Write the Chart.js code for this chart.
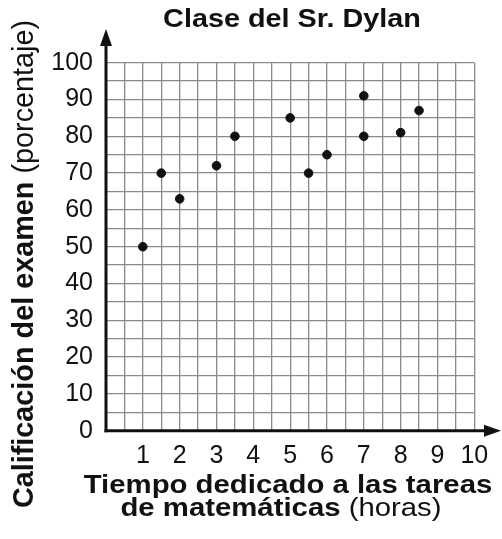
<!DOCTYPE html>
<html>
<head>
<meta charset="utf-8">
<title>Clase del Sr. Dylan</title>
<script src="https://cdn.jsdelivr.net/npm/chart.js@4.4.1/dist/chart.umd.min.js"></script>
<style>
  html, body { margin: 0; padding: 0; background: #fff; }
  #wrap { width: 502px; height: 539px; }
</style>
</head>
<body>
<div id="wrap"><canvas id="grafico" width="502" height="539"></canvas></div>
<script>
// Datos
const horas = [1, 1.5, 2, 3, 3.5, 5, 5.5, 6, 7, 7, 8, 8.5];
const calificaciones = [50, 70, 63, 72, 80, 85, 70, 75, 91, 80, 81, 87];
const etiquetasX = [1, 2, 3, 4, 5, 6, 7, 8, 9, 10];
const etiquetasY = [0, 10, 20, 30, 40, 50, 60, 70, 80, 90, 100];

const titulo = "Clase del Sr. Dylan";
const tituloX1 = [["Tiempo dedicado a las tareas", "bold"]];
const tituloX2 = [["de matemáticas ", "bold"], ["(horas)", "normal"]];
const tituloY = [["Calificación del examen ", "bold"], ["(porcentaje)", "normal"]];

const fuente = '"Liberation Sans", Arial, Helvetica, sans-serif';
const negro = "#111";
const gris = "#8a8a8a";

const puntos = horas.map((h, i) => ({ x: h, y: calificaciones[i] }));

// Escribe texto con partes en negrita y normal, centrado en cx
function textoMixto(ctx, partes, cx, y, tam, escalaX) {
    ctx.save();
    ctx.translate(cx, y);
    ctx.scale(escalaX, 1);
    let total = 0;
    partes.forEach(p => {
        ctx.font = `${p[1]} ${tam}px ${fuente}`;
        total += ctx.measureText(p[0]).width;
    });
    let x = -total / 2;
    ctx.textAlign = "left";
    ctx.textBaseline = "alphabetic";
    ctx.fillStyle = negro;
    partes.forEach(p => {
        ctx.font = `${p[1]} ${tam}px ${fuente}`;
        ctx.fillText(p[0], x, 0);
        x += ctx.measureText(p[0]).width;
    });
    ctx.restore();
}

const ejesYTextos = {
    id: "ejesYTextos",
    afterDraw(chart) {
        const ctx = chart.ctx;
        const a = chart.chartArea;
        ctx.save();
        ctx.strokeStyle = negro;
        ctx.fillStyle = negro;
        ctx.lineWidth = 3;

        // eje Y con flecha
        ctx.beginPath();
        ctx.moveTo(a.left, a.bottom + 1.5);
        ctx.lineTo(a.left, 40);
        ctx.stroke();
        ctx.beginPath();
        ctx.moveTo(a.left, 29);
        ctx.lineTo(a.left - 6, 46);
        ctx.lineTo(a.left + 6, 46);
        ctx.closePath();
        ctx.fill();

        // eje X con flecha
        ctx.beginPath();
        ctx.moveTo(a.left - 1.5, a.bottom);
        ctx.lineTo(490, a.bottom);
        ctx.stroke();
        ctx.beginPath();
        ctx.moveTo(501, a.bottom);
        ctx.lineTo(484, a.bottom - 6);
        ctx.lineTo(484, a.bottom + 6);
        ctx.closePath();
        ctx.fill();
        ctx.restore();

        // títulos
        textoMixto(ctx, [[titulo, "bold"]], 292, 27, 25.5, 1.13);
        textoMixto(ctx, tituloX1, 288, 493, 25.5, 1.15);
        textoMixto(ctx, tituloX2, 281, 516, 25.5, 1.15);

        ctx.save();
        ctx.translate(33, 264);
        ctx.rotate(-Math.PI / 2);
        textoMixto(ctx, tituloY, 0, 0, 28.8, 1.0);
        ctx.restore();
    }
};

new Chart(document.getElementById("grafico"), {
    type: "scatter",
    data: {
        datasets: [{
            data: puntos,
            backgroundColor: negro,
            borderColor: negro,
            pointRadius: 4.3,
            pointHoverRadius: 4.3
        }]
    },
    options: {
        responsive: false,
        animation: false,
        events: [],
        layout: { padding: { top: 62.7, right: 27.7, left: 0, bottom: 0 } },
        plugins: {
            legend: { display: false },
            tooltip: { enabled: false },
            title: { display: false }
        },
        scales: {
            x: {
                type: "linear",
                min: 0,
                max: 10,
                afterFit(s) { s.height = 108.3; },
                border: { display: false },
                grid: { color: gris, lineWidth: 1.3, drawTicks: false },
                ticks: {
                    stepSize: 0.5,
                    autoSkip: false,
                    maxRotation: 0,
                    padding: 10,
                    color: negro,
                    font: { family: fuente, size: 25 },
                    callback: v => etiquetasX.includes(v) ? String(v) : ""
                }
            },
            y: {
                min: 0,
                max: 100,
                afterFit(s) { s.width = 106; },
                border: { display: false },
                grid: { color: gris, lineWidth: 1.3, drawTicks: false },
                ticks: {
                    stepSize: 5,
                    autoSkip: false,
                    padding: 13,
                    color: negro,
                    font: { family: fuente, size: 25 },
                    callback: v => etiquetasY.includes(v) ? String(v) : ""
                }
            }
        }
    },
    plugins: [ejesYTextos]
});
</script>
</body>
</html>
